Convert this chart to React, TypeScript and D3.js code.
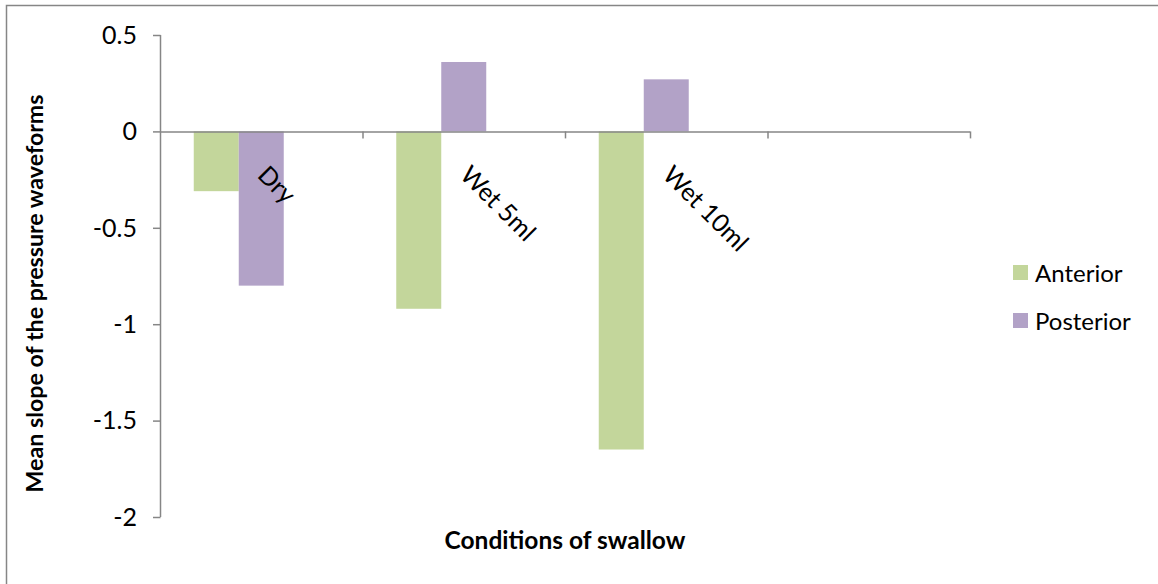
import React from "react";
import * as d3 from "d3";

const categories = ["Dry", "Wet 5ml", "Wet 10ml", ""];
const seriesNames = ["Anterior", "Posterior"];
const slotNames = ["Anterior", "Posterior", "_empty"];
const anterior = [-0.31, -0.92, -1.65];
const posterior = [-0.8, 0.36, 0.27];
const yTicks = [0.5, 0, -0.5, -1, -1.5, -2];
const colors = ["#C3D69B", "#B2A2C7"];

const W = 1158;
const H = 584;
const FONT = "Lato, 'Open Sans', sans-serif";

export default function App() {
  const x = d3.scaleBand<string>().domain(categories).range([160, 970]).paddingInner(0).paddingOuter(0);
  const inner = d3
    .scaleBand<string>()
    .domain(slotNames)
    .range([0, x.bandwidth()])
    .paddingOuter(0.75)
    .paddingInner(0);
  const y = d3.scaleLinear().domain([-2, 0.5]).range([517, 35]);
  const values = [anterior, posterior];

  return (
    <svg
      width={W}
      height={H}
      style={{ position: "absolute", left: 0, top: 0, display: "block", background: "#fff" }}
    >
      <rect x={6.5} y={5.5} width={W + 10} height={H + 10} fill="none" stroke="#868686" strokeWidth={1.5} />
      {values.map((vals, si) =>
        vals.map((v, ci) => {
          const x0 = (x(categories[ci]) as number) + (inner(slotNames[si]) as number);
          const y0 = y(Math.max(0, v));
          const y1 = y(Math.min(0, v));
          return (
            <rect
              key={`${si}-${ci}`}
              x={x0}
              y={y0}
              width={inner.bandwidth()}
              height={y1 - y0}
              fill={colors[si]}
            />
          );
        })
      )}
      <line x1={160.5} x2={160.5} y1={y(0.5)} y2={y(-2)} stroke="#868686" strokeWidth={1.5} />
      {yTicks.map((t) => (
        <g key={t}>
          <line x1={153} x2={160.5} y1={y(t) + 0.5} y2={y(t) + 0.5} stroke="#868686" strokeWidth={1.5} />
          <text
            x={137}
            y={y(t)}
            dy="0.35em"
            textAnchor="end"
            fontFamily={FONT}
            fontSize={25}
            fill="#000"
          >
            {t === 0 ? "0" : String(t)}
          </text>
        </g>
      ))}
      <line x1={160} x2={970} y1={y(0) + 0.5} y2={y(0) + 0.5} stroke="#868686" strokeWidth={1.5} />
      {categories.map((c, i) => (
        <line
          key={"t" + i}
          x1={(x(c) as number) + x.bandwidth() + 0.5}
          x2={(x(c) as number) + x.bandwidth() + 0.5}
          y1={y(0)}
          y2={y(0) + 7}
          stroke="#868686"
          strokeWidth={1.5}
        />
      ))}
      {categories.map((c, i) =>
        c ? (
          <text
            key={"l" + i}
            transform={`translate(${(x(c) as number) + x.bandwidth() / 2 - 5},${y(0) + 45}) rotate(45)`}
            fontFamily={FONT}
            fontSize={25}
            fill="#000"
          >
            {c}
          </text>
        ) : null
      )}
      <text
        x={565}
        y={549}
        textAnchor="middle"
        fontFamily={FONT}
        fontSize={24.5}
        fontWeight="bold"
        fill="#000"
      >
        Conditions of swallow
      </text>
      <text
        transform={`translate(43,${(95 + 492) / 2}) rotate(-90)`}
        textAnchor="middle"
        fontFamily={FONT}
        fontSize={23.2}
        fontWeight="bold"
        fill="#000"
      >
        Mean slope of the pressure waveforms
      </text>
      {seriesNames.map((s, i) => (
        <g key={s} transform={`translate(1013,${265 + i * 48})`}>
          <rect x={0} y={0} width={15} height={15} fill={colors[i]} />
          <text x={22} y={8} dy="0.36em" fontFamily={FONT} fontSize={24} fill="#000">
            {s}
          </text>
        </g>
      ))}
    </svg>
  );
}
